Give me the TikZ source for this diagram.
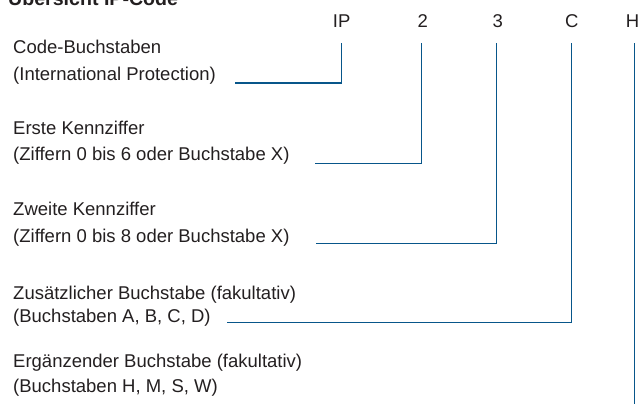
\documentclass[tikz,border=0pt]{standalone}
\usepackage{fontspec}
\setmainfont{Liberation Sans}
\definecolor{linecol}{RGB}{8,86,138}
\definecolor{txtcol}{RGB}{35,31,32}
\begin{document}
\begin{tikzpicture}[x=1bp,y=-1bp,
  lbl/.style={inner sep=0pt,anchor=base west,text=txtcol,font=\fontsize{18.5bp}{22bp}\selectfont},
  hdr/.style={inner sep=0pt,anchor=base,text=txtcol,font=\fontsize{18.5bp}{22bp}\selectfont},
  ttl/.style={inner sep=0pt,anchor=base west,text=txtcol,font=\fontsize{19.6bp}{22bp}\selectfont\bfseries},
  conn/.style={draw=linecol,line width=1.3bp}]
\useasboundingbox (0,0) rectangle (640,404);
\node[ttl] (title) at (8,5.5) {Übersicht IP-Code};
% header labels
\node[hdr] (hIP) at (341.7,27.5) {IP};
\node[hdr] (h2) at (422.7,27.5) {2};
\node[hdr] (h3) at (497.7,27.5) {3};
\node[hdr] (hC) at (571.7,27.5) {C};
\node[hdr] (hH) at (632.5,27.5) {H};
% descriptions
\node[lbl] (a1) at (13,53) {Code-Buchstaben};
\node[lbl] (a2) at (13,80) {(International Protection)};
\node[lbl] (b1) at (13,134) {Erste Kennziffer};
\node[lbl] (b2) at (13,160) {(Ziffern 0 bis 6 oder Buchstabe X)};
\node[lbl] (c1) at (13,215) {Zweite Kennziffer};
\node[lbl] (c2) at (13,242) {(Ziffern 0 bis 8 oder Buchstabe X)};
\node[lbl] (d1) at (13,299) {Zusätzlicher Buchstabe (fakultativ)};
\node[lbl] (d2) at (13,322) {(Buchstaben A, B, C, D)};
\node[lbl] (e1) at (13,367) {Ergänzender Buchstabe (fakultativ)};
\node[lbl] (e2) at (13,392) {(Buchstaben H, M, S, W)};
% connector points
\coordinate (tIP) at (341.7,43);
\coordinate (kIP) at (341.7,83);
\coordinate (eIP) at (235,83);
\coordinate (t2) at (421.3,43);
\coordinate (k2) at (421.3,163.3);
\coordinate (e2p) at (315,163.3);
\coordinate (t3) at (496.3,43);
\coordinate (k3) at (496.3,243.3);
\coordinate (e3) at (316,243.3);
\coordinate (tC) at (571.3,43);
\coordinate (kC) at (571.3,322.3);
\coordinate (eC) at (227,322.3);
\coordinate (tH) at (634.3,43);
\coordinate (eH) at (634.3,404);
\draw[conn] (tIP) -- (kIP) -- (eIP);
\draw[conn] (t2) -- (k2) -- (e2p);
\draw[conn] (t3) -- (k3) -- (e3);
\draw[conn] (tC) -- (kC) -- (eC);
\draw[conn] (tH) -- (eH);
\end{tikzpicture}
\end{document}
